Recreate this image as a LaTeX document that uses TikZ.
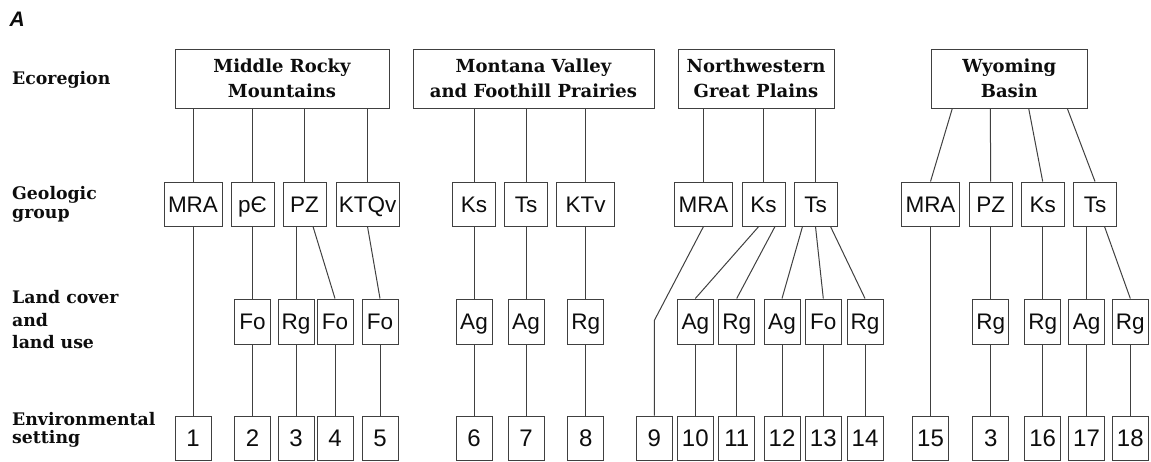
\documentclass[tikz,border=0pt]{standalone}
\usepackage{fontspec}
\setmainfont{DejaVu Serif}
\newfontfamily\boxfont{Liberation Sans}
\usetikzlibrary{calc}
\begin{document}
\begin{tikzpicture}[x=1pt,y=-1pt,
  conn/.style={draw=black!75,line width=1pt},
  eco/.style={draw=black!75,line width=1pt,inner sep=0pt,align=center,minimum height=59pt,
    font=\fontsize{18}{25.5}\selectfont\bfseries,text=black!95},
  gbox/.style={draw=black!75,line width=1pt,inner sep=0pt,minimum height=44pt,minimum width=43pt,
    font=\boxfont\fontsize{22.5}{22.5}\selectfont,text height=16.1pt,text depth=0pt,text=black!95},
  lbox/.style={gbox,minimum width=36pt,minimum height=45pt},
  ebox/.style={gbox,minimum width=36pt,font=\boxfont\fontsize{24}{24}\selectfont,text height=17.2pt},
  rowlab/.style={anchor=north west,inner sep=0pt,align=left,text=black!95},
]
\useasboundingbox (0,0) rectangle (1151,461);

% panel letter
\node[anchor=base west,inner sep=0pt,font=\boxfont\fontsize{21}{21}\selectfont\bfseries\itshape,text=black!95] (panel) at (9.5,26) {A};

% row labels
\node[rowlab,font=\fontsize{17.3}{18}\selectfont\bfseries] (r1) at (12,71.5) {Ecoregion};
\node[rowlab,font=\fontsize{17.3}{18.5}\selectfont\bfseries] (r2) at (12,186.3) {Geologic\\group};
\node[rowlab,font=\fontsize{17.3}{22.5}\selectfont\bfseries] (r3) at (12,290.2) {Land cover\\and\\land use};
\node[rowlab,font=\fontsize{17.3}{18.3}\selectfont\bfseries] (r4) at (12,411.9) {Environmental\\setting};

% ===== Middle Rocky Mountains =====
\node[eco,minimum width=214pt] (mrm) at (282,78.5) {Middle Rocky\\Mountains};
\node[gbox,minimum width=58pt] (g1) at (193,204) {MRA};
\node[gbox] (g2) at (252.5,204) {pЄ};
\node[gbox] (g3) at (304.5,204) {PZ};
\node[gbox,minimum width=63pt] (g4) at (367.5,204) {KTQv};
\node[lbox] (l2) at (252.5,321.5) {Fo};
\node[lbox] (l3) at (296,321.5) {Rg};
\node[lbox] (l4) at (335,321.5) {Fo};
\node[lbox] (l5) at (380,321.5) {Fo};
\node[ebox] (e1) at (193,438) {1};
\node[ebox] (e2) at (252.5,438) {2};
\node[ebox] (e3) at (296,438) {3};
\node[ebox] (e4) at (335,438) {4};
\node[ebox] (e5) at (380,438) {5};
\foreach \g in {g1,g2,g3,g4} \draw[conn] (\g.north |- mrm.south) -- (\g.north);
\draw[conn] (g1.south) -- (e1.north);
\draw[conn] (g2.south) -- (l2.north);
\draw[conn] (l3.north |- g3.south) -- (l3.north);
\draw[conn] ($(g3.south)+(8.5,0)$) -- (l4.north);
\draw[conn] (g4.south) -- (l5.north);
\foreach \a/\b in {l2/e2,l3/e3,l4/e4,l5/e5} \draw[conn] (\a.south) -- (\b.north);

% ===== Montana Valley and Foothill Prairies =====
\node[eco,minimum width=241pt] (mvf) at (533.5,78.5) {Montana Valley\\and Foothill Prairies};
\node[gbox] (g5) at (474,204) {Ks};
\node[gbox] (g6) at (526,204) {Ts};
\node[gbox,minimum width=58pt] (g7) at (585.7,204) {KTv};
\node[lbox] (l6) at (474,321.5) {Ag};
\node[lbox] (l7) at (526,321.5) {Ag};
\node[lbox] (l8) at (585.7,321.5) {Rg};
\node[ebox] (e6) at (474,438) {6};
\node[ebox] (e7) at (526,438) {7};
\node[ebox] (e8) at (585.7,438) {8};
\foreach \g/\l/\e in {g5/l6/e6,g6/l7/e7,g7/l8/e8}{
  \draw[conn] (\g.north |- mvf.south) -- (\g.north);
  \draw[conn] (\g.south) -- (\l.north);
  \draw[conn] (\l.south) -- (\e.north);
}

% ===== Northwestern Great Plains =====
\node[eco,minimum width=156pt] (nwg) at (756,78.5) {Northwestern\\Great Plains};
\node[gbox,minimum width=58pt] (g8) at (703.5,204) {MRA};
\node[gbox] (g9) at (763.5,204) {Ks};
\node[gbox] (g10) at (815.5,204) {Ts};
\node[lbox] (l10) at (695.3,321.5) {Ag};
\node[lbox] (l11) at (736.7,321.5) {Rg};
\node[lbox] (l12) at (782,321.5) {Ag};
\node[lbox] (l13) at (823.3,321.5) {Fo};
\node[lbox] (l14) at (865,321.5) {Rg};
\node[ebox] (e9) at (654.3,438) {9};
\node[ebox] (e10) at (695.3,438) {10};
\node[ebox] (e11) at (736.7,438) {11};
\node[ebox] (e12) at (782,438) {12};
\node[ebox] (e13) at (823.3,438) {13};
\node[ebox] (e14) at (865,438) {14};
\coordinate (bend9) at ($(e9.north)+(0,-95)$);
\foreach \g in {g8,g9,g10} \draw[conn] (\g.north |- nwg.south) -- (\g.north);
\draw[conn] (g8.south) -- (bend9) -- (e9.north);
\draw[conn] ($(g9.south)+(-4.8,0)$) -- (l10.north);
\draw[conn] ($(g9.south)+(11.5,0)$) -- (l11.north);
\draw[conn] ($(g10.south)+(-13,0)$) -- (l12.north);
\draw[conn] (g10.south) -- (l13.north);
\draw[conn] ($(g10.south)+(15,0)$) -- (l14.north);
\foreach \a/\b in {l10/e10,l11/e11,l12/e12,l13/e13,l14/e14} \draw[conn] (\a.south) -- (\b.north);

% ===== Wyoming Basin =====
\node[eco,minimum width=156pt] (wyo) at (1009.3,78.5) {Wyoming\\Basin};
\node[gbox,minimum width=58pt] (g11) at (930.5,204) {MRA};
\node[gbox] (g12) at (990.7,204) {PZ};
\node[gbox] (g13) at (1042.7,204) {Ks};
\node[gbox] (g14) at (1095,204) {Ts};
\node[lbox] (l15) at (990.7,321.5) {Rg};
\node[lbox] (l16) at (1042.7,321.5) {Rg};
\node[lbox] (l17) at (1086.5,321.5) {Ag};
\node[lbox] (l18) at (1130.3,321.5) {Rg};
\node[ebox] (e15) at (930.5,438) {15};
\node[ebox] (e3b) at (990.7,438) {3};
\node[ebox] (e16) at (1042.7,438) {16};
\node[ebox] (e17) at (1086.5,438) {17};
\node[ebox] (e18) at (1130.3,438) {18};
\draw[conn] ($(wyo.south)+(-57,0)$) -- (g11.north);
\draw[conn] ($(wyo.south)+(-19,0)$) -- (g12.north);
\draw[conn] ($(wyo.south)+(19.4,0)$) -- (g13.north);
\draw[conn] ($(wyo.south)+(58,0)$) -- (g14.north);
\draw[conn] (g11.south) -- (e15.north);
\draw[conn] (g12.south) -- (l15.north);
\draw[conn] (g13.south) -- (l16.north);
\draw[conn] (l17.north |- g14.south) -- (l17.north);
\draw[conn] ($(g14.south)+(9.5,0)$) -- (l18.north);
\foreach \a/\b in {l15/e3b,l16/e16,l17/e17,l18/e18} \draw[conn] (\a.south) -- (\b.north);
\end{tikzpicture}
\end{document}
